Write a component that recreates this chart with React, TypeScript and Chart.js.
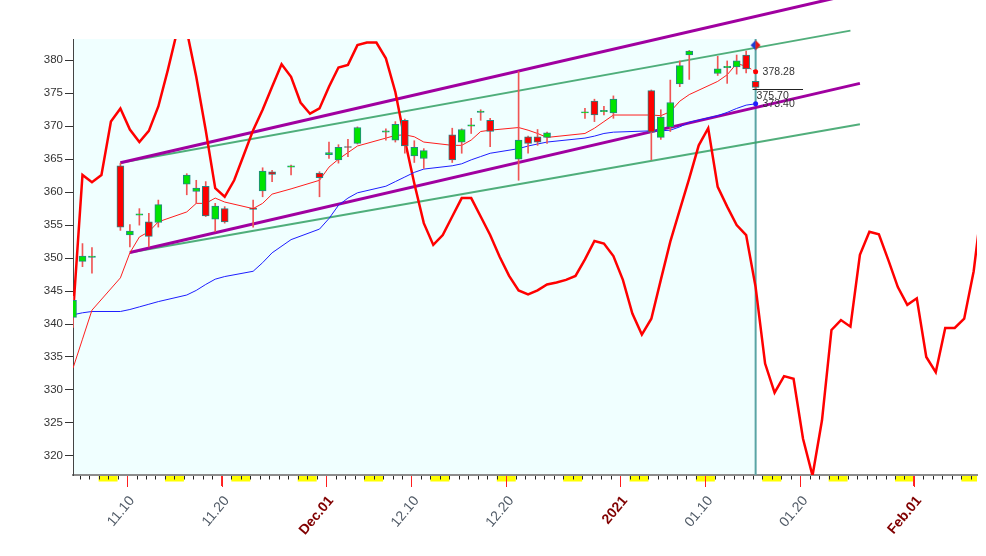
import React, { useEffect, useRef } from 'react';
import { Chart, registerables } from 'chart.js';

Chart.register(...registerables);

const FONT = "'Liberation Sans', Arial, sans-serif";

// ---- candles (trading days) ----
const tradeDates = [
  '2020-11-04', '2020-11-05', '2020-11-06', '2020-11-09', '2020-11-10', '2020-11-11', '2020-11-12', '2020-11-13',
  '2020-11-16', '2020-11-17', '2020-11-18', '2020-11-19', '2020-11-20', '2020-11-23', '2020-11-24', '2020-11-25',
  '2020-11-27', '2020-11-30',
  '2020-12-01', '2020-12-02', '2020-12-03', '2020-12-04', '2020-12-07', '2020-12-08', '2020-12-09', '2020-12-10',
  '2020-12-11', '2020-12-14', '2020-12-15', '2020-12-16', '2020-12-17', '2020-12-18', '2020-12-21', '2020-12-22',
  '2020-12-23', '2020-12-24', '2020-12-28', '2020-12-29', '2020-12-30', '2020-12-31',
  '2021-01-04', '2021-01-05', '2021-01-06', '2021-01-07', '2021-01-08', '2021-01-11', '2021-01-12', '2021-01-13',
  '2021-01-14', '2021-01-15',
];
const opens = [
  341.0, 349.5, 350.1, 364.0, 353.5, 356.5, 355.5, 355.4, 361.2, 360.1, 360.9, 355.9, 357.5, 357.6, 360.2, 363.1, 363.8, 362.9,
  365.7, 364.9, 366.9, 367.4, 369.1, 367.9, 370.9, 365.5, 365.1, 368.7, 367.6, 370.0, 372.1, 370.9, 365.0, 368.4, 368.4, 368.3,
  372.0, 373.8, 372.2, 372.0,
  375.4, 368.3, 369.9, 376.4, 380.8, 378.0, 378.9, 379.0, 380.8, 376.8,
];
const highs = [
  344.2, 352.2, 351.6, 364.4, 355.1, 357.5, 356.8, 358.8, 362.8, 361.8, 361.6, 358.3, 357.8, 358.8, 363.7, 363.3, 364.1, 363.1,
  367.6, 367.2, 368.0, 369.9, 369.6, 370.7, 371.1, 367.8, 366.6, 369.7, 369.6, 371.2, 372.5, 371.2, 378.3, 368.5, 369.5, 369.1,
  372.7, 374.1, 373.0, 374.6,
  375.5, 372.5, 377.0, 379.9, 381.5, 380.6, 379.9, 380.8, 381.4, 376.9,
];
const lows = [
  339.5, 348.7, 347.7, 354.2, 351.7, 355.0, 351.7, 354.7, 359.6, 358.3, 356.3, 354.0, 355.3, 354.7, 359.3, 361.6, 362.6, 359.3,
  365.1, 364.4, 365.4, 367.3, 367.9, 367.6, 365.9, 364.5, 363.6, 364.5, 365.9, 368.9, 370.9, 366.9, 361.8, 365.9, 367.1, 367.4,
  371.2, 370.7, 371.7, 371.2,
  364.9, 368.0, 369.2, 376.0, 377.1, 377.7, 376.5, 377.9, 378.1, 375.6,
];
const closes = [
  343.6, 350.3, 350.3, 354.7, 354.1, 356.7, 353.3, 358.1, 362.6, 360.6, 356.4, 357.9, 355.5, 357.4, 363.2, 362.7, 364.0, 362.2,
  366.0, 366.8, 366.8, 369.8, 369.3, 370.3, 367.0, 366.8, 366.3, 364.9, 369.5, 370.2, 372.3, 369.2, 367.9, 367.4, 367.6, 369.0,
  372.2, 371.7, 372.4, 374.1,
  369.1, 371.4, 373.6, 379.2, 381.4, 378.7, 379.1, 379.9, 378.7, 375.9,
];
const maShort = [
  333.3, 337.7, 342.1, 347.0, 350.8, 353.2, 354.0, 355.5, 357.0, 358.3, 358.3, 359.1, 358.5, 357.5, 358.3, 359.7, 360.5, 361.8,
  363.8, 365.0, 366.0, 367.0, 368.2, 368.6, 368.7, 368.4, 367.6, 367.1, 367.1, 367.9, 369.2, 369.4, 369.8, 369.4, 368.9, 368.3,
  368.9, 369.7, 370.7, 371.7,
  371.7, 371.6, 372.2, 373.8, 374.8, 376.8, 377.8, 379.5, 379.1, 378.28,
];
const maLong = [
  341.4, 341.7, 341.9, 341.9, 342.2, 342.6, 343.0, 343.4, 344.4, 345.1, 346.0, 346.8, 347.2, 348.0, 349.3, 350.8, 352.8, 354.4,
  356.0, 358.0, 359.1, 359.9, 360.9, 361.6, 362.3, 363.0, 363.5, 364.0, 364.3, 364.9, 365.4, 365.9, 366.6, 367.0, 367.3, 367.6,
  368.2, 368.5, 368.9, 369.1,
  369.3, 369.3, 369.4, 369.9, 370.6, 371.6, 372.1, 372.7, 373.2, 373.4,
];
const lastPrice = 375.7;
const markerValue = 382.3;
const priceLineEnd = '2021-01-20';

// ---- daily cycle line (calendar days from Nov 4) ----
const cycleStart = '2020-11-04';
const cycleValues = [
  341.5, 362.6, 361.5, 362.6, 370.7, 372.7, 369.5, 367.6, 369.3, 373.0, 378.5, 384.5, 384.5, 377.5, 369.4, 360.6,
  359.3, 361.8, 365.6, 369.4, 372.5, 376.0, 379.4, 377.5, 373.6, 371.9, 372.7,
  376.0, 378.9, 379.3, 382.3, 382.7, 382.7, 380.3, 375.2, 367.9, 361.3, 355.3, 352.0, 353.5, 356.3, 359.1, 359.1,
  356.3, 353.5, 350.2, 347.3, 345.1, 344.5, 345.1, 346.0, 346.3, 346.7, 347.3, 349.8, 352.6, 352.2, 350.3,
  346.7, 341.6, 338.4, 340.8, 346.7, 352.5, 357.3, 362.1, 367.1, 369.7, 360.8, 357.8, 355.0, 353.5, 345.6, 334.0,
  329.6, 332.1, 331.7, 322.6, 317.0, 325.4, 339.1, 340.6, 339.6, 350.5, 354.0, 353.6, 349.7, 345.6, 342.9,
  343.9, 335.0, 332.7, 339.4, 339.4, 340.8, 348.0, 359.8,
];

// ---- channel lines ----
const purpleUpperDates = ['2020-11-09', '2021-01-26'];
const purpleUpperValues = [364.45, 390.3];
const purpleLowerDates = ['2020-11-10', '2021-01-26'];
const purpleLowerValues = [350.85, 376.5];
const greenUpperDates = ['2020-11-09', '2021-01-25'];
const greenUpperValues = [364.45, 384.5];
const greenLowerDates = ['2020-11-10', '2021-01-26'];
const greenLowerValues = [350.85, 370.3];

// ---- axes ----
const xTickDates = ['2020-11-10', '2020-11-20', '2020-12-01', '2020-12-10', '2020-12-20', '2021-01-01', '2021-01-10', '2021-01-20', '2021-02-01'];
const xTickLabels = ['11.10', '11.20', 'Dec.01', '12.10', '12.20', '2021', '01.10', '01.20', 'Feb.01'];
const xTickMajor = [false, false, true, false, false, true, false, false, true];
const yTicks = [320, 325, 330, 335, 340, 345, 350, 355, 360, 365, 370, 375, 380];

const X_MIN = 3;
const X_MAX = 98.35;
const Y_MIN = 317.1;
const Y_MAX = 383.23;
const TICK_SHIFT = 0.3;

const DAY0 = Date.UTC(2020, 10, 1);
function dayIndex(s: string): number {
  const [y, m, d] = s.split('-').map(Number);
  return Math.round((Date.UTC(y, m - 1, d) - DAY0) / 86400000);
}

const GREEN = 'rgb(0,228,0)';
const RED = 'rgb(255,0,0)';

export default function App() {
  const ref = useRef<HTMLCanvasElement>(null);

  useEffect(() => {
    document.body.style.margin = '0';
    const canvas = ref.current;
    if (!canvas) return;

    const xs = tradeDates.map(dayIndex);
    const lastIdx = xs[xs.length - 1];
    const lastI = xs.length - 1;
    const bodies = xs.map((x, i) => ({ x, y: [opens[i], closes[i]] }));
    const wicks = xs.map((x, i) => ({ x, y: [lows[i], highs[i]] }));
    const bodyColors = xs.map((_, i) => (closes[i] >= opens[i] ? GREEN : RED));
    const shortPts = xs.map((x, i) => ({ x, y: maShort[i] }));
    const longPts = xs.map((x, i) => ({ x, y: maLong[i] }));
    const c0 = dayIndex(cycleStart);
    const cyclePts = cycleValues.map((v, i) => ({ x: c0 + i, y: v }));
    const seg = (dates: string[], vals: number[]) => dates.map((d, i) => ({ x: dayIndex(d), y: vals[i] }));
    const xTickIdx = xTickDates.map((d) => dayIndex(d) - TICK_SHIFT);
    const majorIdx = new Set(xTickDates.map(dayIndex));

    const dc = document.createElement('canvas');
    dc.width = 11;
    dc.height = 11;
    const g = dc.getContext('2d')!;
    g.fillStyle = 'rgb(30,60,210)';
    g.beginPath(); g.moveTo(5.5, 0.5); g.lineTo(0.5, 5.5); g.lineTo(5.5, 10.5); g.closePath(); g.fill();
    g.fillStyle = 'rgb(235,20,20)';
    g.beginPath(); g.moveTo(5.5, 0.5); g.lineTo(10.5, 5.5); g.lineTo(5.5, 10.5); g.closePath(); g.fill();

    const backdrop = {
      id: 'backdrop',
      beforeDraw(chart: any) {
        const { ctx, chartArea: a } = chart;
        const x = chart.scales.x;
        ctx.save();
        ctx.fillStyle = '#ffffff';
        ctx.fillRect(0, 0, chart.width, chart.height);
        const xCut = x.getPixelForValue(lastIdx);
        ctx.fillStyle = 'rgb(240,255,255)';
        ctx.fillRect(a.left, a.top, xCut - a.left, a.bottom - a.top);
        ctx.fillStyle = 'rgb(255,255,0)';
        for (let d = Math.floor(X_MIN) - 2; d <= Math.ceil(X_MAX); d++) {
          if (((d % 7) + 7) % 7 === 6) {
            const p1 = Math.max(a.left, x.getPixelForValue(d - TICK_SHIFT));
            const p2 = Math.min(a.right, x.getPixelForValue(d + 2 - TICK_SHIFT));
            if (p2 > p1) ctx.fillRect(p1, a.bottom + 1, p2 - p1, 5.5);
          }
        }
        ctx.strokeStyle = '#222';
        ctx.lineWidth = 1;
        for (let d = Math.floor(X_MIN); d <= Math.ceil(X_MAX); d++) {
          if (majorIdx.has(d)) continue;
          const p = x.getPixelForValue(d - TICK_SHIFT);
          if (p < a.left + 1 || p > a.right) continue;
          const px = Math.round(p) + 0.5;
          ctx.beginPath();
          ctx.moveTo(px, a.bottom);
          ctx.lineTo(px, a.bottom + 4.5);
          ctx.stroke();
        }
        ctx.restore();
      },
      beforeDatasetsDraw(chart: any) {
        const { ctx, chartArea: a } = chart;
        const px = chart.scales.x.getPixelForValue(lastIdx);
        ctx.save();
        ctx.strokeStyle = 'rgb(90,165,165)';
        ctx.lineWidth = 2;
        ctx.beginPath();
        ctx.moveTo(px, a.top);
        ctx.lineTo(px, a.bottom);
        ctx.stroke();
        ctx.restore();
      },
      afterDatasetsDraw(chart: any) {
        const { ctx, chartArea: a } = chart;
        const x = chart.scales.x;
        const y = chart.scales.y;
        const px = x.getPixelForValue(lastIdx);
        ctx.save();
        // major date ticks (red) under the axis
        ctx.strokeStyle = 'rgb(255,30,30)';
        ctx.lineWidth = 1;
        xTickIdx.forEach((v) => {
          const p = Math.round(x.getPixelForValue(v)) + 0.5;
          ctx.beginPath();
          ctx.moveTo(p, a.bottom + 1);
          ctx.lineTo(p, a.bottom + 12);
          ctx.stroke();
        });
        const ly = Math.round(y.getPixelForValue(lastPrice)) + 0.5;
        ctx.strokeStyle = '#222';
        ctx.lineWidth = 1;
        ctx.beginPath();
        ctx.moveTo(px - 3, ly);
        ctx.lineTo(x.getPixelForValue(dayIndex(priceLineEnd)), ly);
        ctx.stroke();
        ctx.font = `10.5px ${FONT}`;
        ctx.fillStyle = '#333';
        ctx.textBaseline = 'middle';
        ctx.textAlign = 'left';
        ctx.fillText(maShort[lastI].toFixed(2), px + 7, y.getPixelForValue(maShort[lastI]));
        ctx.fillText(lastPrice.toFixed(2), px + 1, ly + 7);
        ctx.fillText(maLong[lastI].toFixed(2), px + 7, y.getPixelForValue(maLong[lastI]));
        ctx.restore();
      },
    };

    const chart = new Chart(canvas, {
      type: 'line',
      data: {
        datasets: [
          {
            type: 'line', label: 'marker', data: [{ x: lastIdx, y: markerValue }], showLine: false,
            pointStyle: dc as any, pointRadius: 5, order: 0,
          } as any,
          {
            type: 'bar', label: 'body', data: bodies as any, backgroundColor: bodyColors,
            borderColor: 'rgb(35,135,135)', borderWidth: 1, borderSkipped: false, barThickness: 7, grouped: false, order: 1,
          } as any,
          {
            type: 'bar', label: 'wick', data: wicks as any, backgroundColor: 'rgb(240,85,85)',
            borderWidth: 0, barThickness: 1, grouped: false, order: 2,
          } as any,
          {
            type: 'line', label: 'short', data: shortPts, borderColor: 'rgb(255,30,30)', borderWidth: 1,
            pointRadius: (c: any) => (c.dataIndex === lastI ? 2.5 : 0), pointBackgroundColor: 'rgb(255,0,0)', pointBorderWidth: 0,
            segment: { borderDash: (c: any) => (c.p1DataIndex === lastI ? [2, 2] : undefined) }, order: 3,
          } as any,
          {
            type: 'line', label: 'long', data: longPts, borderColor: 'rgb(30,30,255)', borderWidth: 1,
            pointRadius: (c: any) => (c.dataIndex === lastI ? 2.5 : 0), pointBackgroundColor: 'rgb(30,30,255)', pointBorderWidth: 0,
            order: 3,
          } as any,
          {
            type: 'line', label: 'cycle', data: cyclePts, borderColor: 'rgb(255,0,0)', borderWidth: 2.5,
            pointRadius: 0, clip: 0, order: 4,
          } as any,
          {
            type: 'line', label: 'pu', data: seg(purpleUpperDates, purpleUpperValues), borderColor: 'rgb(160,0,160)',
            borderWidth: 3, pointRadius: 0, clip: false, order: 5,
          } as any,
          {
            type: 'line', label: 'pl', data: seg(purpleLowerDates, purpleLowerValues), borderColor: 'rgb(160,0,160)',
            borderWidth: 3, pointRadius: 0, clip: false, order: 5,
          } as any,
          {
            type: 'line', label: 'gu', data: seg(greenUpperDates, greenUpperValues), borderColor: 'rgba(50,160,100,0.85)',
            borderWidth: 2, pointRadius: 0, clip: false, order: 6,
          } as any,
          {
            type: 'line', label: 'gl', data: seg(greenLowerDates, greenLowerValues), borderColor: 'rgba(50,160,100,0.85)',
            borderWidth: 2, pointRadius: 0, clip: false, order: 6,
          } as any,
        ],
      },
      options: {
        animation: false,
        responsive: false,
        maintainAspectRatio: false,
        devicePixelRatio: 1,
        events: [],
        layout: { padding: { top: 39, right: 9, left: 0, bottom: 0 } },
        plugins: { legend: { display: false }, tooltip: { enabled: false } },
        scales: {
          x: {
            type: 'linear', min: X_MIN, max: X_MAX, offset: false,
            afterBuildTicks: (s: any) => { s.ticks = xTickIdx.map((v) => ({ value: v })); },
            afterFit: (s: any) => { s.height = 81; },
            grid: { offset: false, drawOnChartArea: false, drawTicks: true, tickLength: 11, color: 'rgb(255,40,40)', lineWidth: 1 },
            border: { display: true, color: '#8c8c8c', width: 2 },
            ticks: {
              autoSkip: false, minRotation: 50, maxRotation: 50, padding: 7, labelOffset: 5,
              callback: (_v: any, i: number) => xTickLabels[i],
              color: (c: any) => (xTickMajor[c.index] ? 'rgb(128,0,0)' : 'rgb(80,90,102)'),
              font: (c: any) => ({ family: FONT, size: 14, weight: xTickMajor[c.index] ? 'bold' : 'normal' }),
            },
          },
          y: {
            type: 'linear', min: Y_MIN, max: Y_MAX,
            afterBuildTicks: (s: any) => { s.ticks = yTicks.map((v) => ({ value: v })); },
            afterFit: (s: any) => { s.width = 73; },
            grid: { drawOnChartArea: false, drawTicks: true, tickLength: 8, color: '#333' },
            border: { display: true, color: '#444', width: 1 },
            ticks: { color: '#333', font: { family: FONT, size: 11.5 }, padding: 2, callback: (v: any) => String(v) },
          },
        } as any,
      },
      plugins: [backdrop],
    } as any);

    return () => chart.destroy();
  }, []);

  return (
    <div style={{ position: 'absolute', left: 0, top: 0, width: 986, height: 556 }}>
      <canvas ref={ref} width={986} height={556} style={{ width: 986, height: 556, display: 'block' }} />
    </div>
  );
}
